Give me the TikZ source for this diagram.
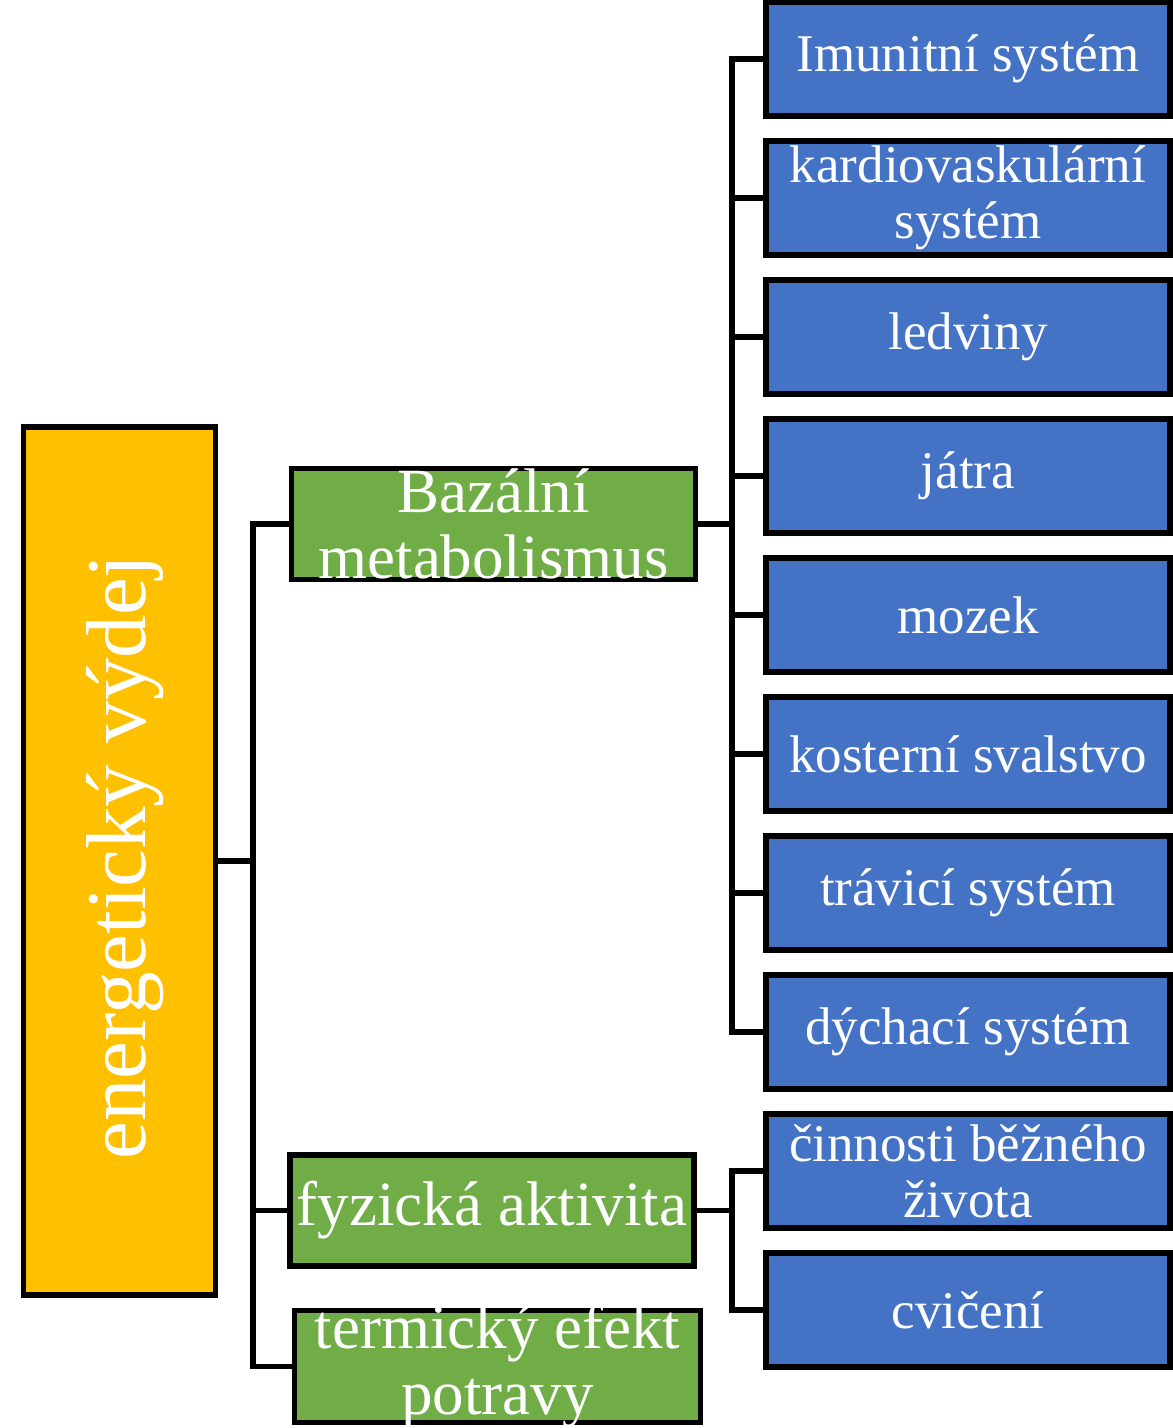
\documentclass[tikz,border=0pt]{standalone}
\usepackage{fontspec}
\setmainfont{Liberation Serif}
\definecolor{bluefill}{HTML}{4472C4}
\definecolor{greenfill}{HTML}{70AD47}
\definecolor{orangefill}{HTML}{FFC000}
\tikzset{
  conn/.style={line width=5.5pt, line join=miter},
  bluebox/.style={draw=black, line width=5.5pt, fill=bluefill, minimum width=404pt, minimum height=114pt, inner sep=0pt, text=white, font=\fontsize{53}{56}\selectfont, align=center},
  greenbox/.style={draw=black, line width=5.5pt, fill=greenfill, minimum width=404pt, minimum height=111pt, inner sep=0pt},
  gtext/.style={text=white, font=\fontsize{63}{66}\selectfont, align=center, inner sep=0pt},
  orangebox/.style={draw=black, line width=5.5pt, fill=orangefill, minimum width=192pt, minimum height=868pt, inner sep=0pt},
  otext/.style={text=white, font=\fontsize{85}{88}\selectfont, inner sep=0pt, rotate=90, xshift=4pt, yshift=-6pt},
}
\begin{document}
\begin{tikzpicture}[x=1pt,y=-1pt]
\useasboundingbox (0,0) rectangle (1173,1428);
% root
\node[orangebox, label={[otext]center:energetický výdej}] (ev) at (119.5,861) {};
% level 2
\node[greenbox, label={[gtext]center:Bazální\\metabolismus}] (bm) at (493.5,524) {};
\node[greenbox, label={[gtext]center:fyzická aktivita}] (fa) at (492,1210.5) {};
\node[greenbox, minimum width=406pt, minimum height=112pt, label={[gtext]center:termický efekt\\potravy}] (tp) at (497.5,1366.5) {};
% level 3
\node[bluebox] (b1) at (968,59) {Imunitní systém};
\node[bluebox] (b2) at (968,198) {kardiovaskulární\\systém};
\node[bluebox] (b3) at (968,337) {ledviny};
\node[bluebox] (b4) at (968,476) {játra};
\node[bluebox] (b5) at (968,615) {mozek};
\node[bluebox] (b6) at (968,754) {kosterní svalstvo};
\node[bluebox] (b7) at (968,893) {trávicí systém};
\node[bluebox] (b8) at (968,1032) {dýchací systém};
\node[bluebox] (b9) at (968,1171) {činnosti běžného\\života};
\node[bluebox] (b10) at (968,1310) {cvičení};
% junction coordinates
\coordinate (j1) at (253,0);
\coordinate (j2) at (732,0);
% connectors root -> level 2
\foreach \c in {bm,fa,tp}{
  \draw[conn] (ev.east) -- (ev.east -| j1) |- (\c.west);
}
% connectors Bazální -> organs
\foreach \c in {b1,b2,b3,b4,b5,b6,b7,b8}{
  \draw[conn] (bm.east) -- (bm.east -| j2) |- (\c.west);
}
% connectors fyzická -> activities
\foreach \c in {b9,b10}{
  \draw[conn] (fa.east) -- (fa.east -| j2) |- (\c.west);
}
\end{tikzpicture}
\end{document}
